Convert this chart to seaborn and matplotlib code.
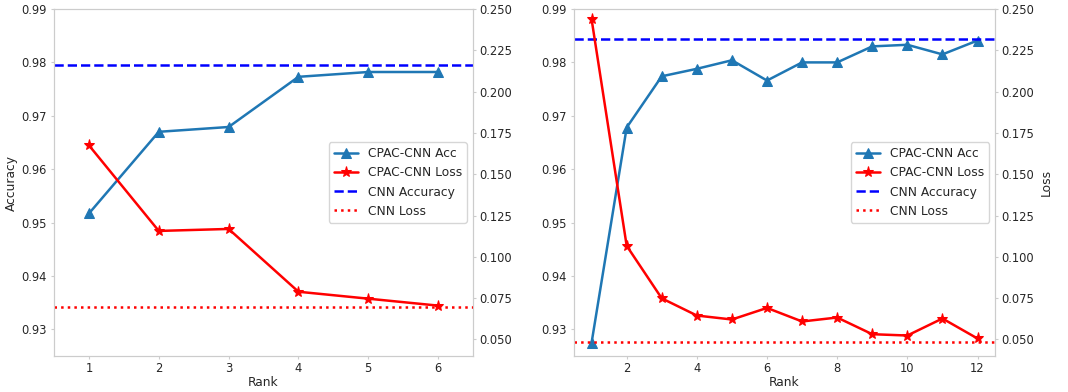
import numpy as np
import matplotlib
matplotlib.use("Agg")
import matplotlib.pyplot as plt
import seaborn as sns

sns.set_style("whitegrid", {"axes.grid": False, "axes.edgecolor": ".8"})
plt.rcParams["font.family"] = ["DejaVu Sans"]
plt.rcParams["font.size"] = 8.8

# left panel data
rank_a = [1, 2, 3, 4, 5, 6]
acc_a = [0.9517, 0.9670, 0.9679, 0.9773, 0.9782, 0.9782]
loss_a = [0.1675, 0.1157, 0.1169, 0.0789, 0.0747, 0.0705]
cnn_acc_a = 0.9795
cnn_loss_a = 0.0695

# right panel data
rank_b = [1, 2, 3, 4, 5, 6, 7, 8, 9, 10, 11, 12]
acc_b = [0.9275, 0.9678, 0.9774, 0.9788, 0.9804, 0.9766,
         0.9800, 0.9800, 0.9830, 0.9833, 0.9815, 0.9841]
loss_b = [0.2438, 0.1067, 0.0749, 0.0645, 0.0621, 0.0691,
          0.0609, 0.0633, 0.0532, 0.0524, 0.0627, 0.0506]
cnn_acc_b = 0.9844
cnn_loss_b = 0.0482

fig = plt.figure(figsize=(10.68, 3.92), dpi=100)
ax1 = fig.add_axes([0.0506, 0.0918, 0.3923, 0.8852])
ax2 = fig.add_axes([0.5375, 0.0918, 0.3942, 0.8852])

TICK_FS = 8.3


def panel(ax, rank, acc, loss, cnn_acc, cnn_loss, xticks, left_label, right_label):
    tw = ax.twinx()
    sns.lineplot(x=rank, y=acc, ax=ax, color="#1f77b4", marker="^", markersize=7,
                 markeredgecolor="#1f77b4", linewidth=1.8, label="CPAC-CNN Acc", legend=False)
    h_acc = ax.lines[-1]
    h_cnn_acc = ax.axhline(cnn_acc, color="blue", linestyle="--", linewidth=1.8,
                           label="CNN Accuracy")
    sns.lineplot(x=rank, y=loss, ax=tw, color="red", marker="*", markersize=8,
                 markeredgecolor="red", linewidth=1.8, label="CPAC-CNN Loss", legend=False)
    h_loss = tw.lines[-1]
    h_cnn_loss = tw.axhline(cnn_loss, color="red", linestyle=":", linewidth=1.8,
                            label="CNN Loss")
    ax.set_ylim(0.925, 0.99)
    ax.set_yticks([0.93, 0.94, 0.95, 0.96, 0.97, 0.98, 0.99])
    tw.set_ylim(0.04, 0.25)
    tw.set_yticks([0.05, 0.075, 0.1, 0.125, 0.15, 0.175, 0.2, 0.225, 0.25])
    tw.set_yticklabels([f"{v:.3f}" for v in tw.get_yticks()])
    ax.set_xlim(0.5, rank[-1] + 0.5)
    ax.set_xticks(xticks)
    ax.tick_params(axis="x", bottom=True, length=2.5, width=0.8, color=".8",
                   pad=1.8, labelsize=TICK_FS)
    ax.tick_params(axis="y", left=True, length=2.5, width=0.8, color=".8",
                   pad=3, labelsize=TICK_FS)
    tw.tick_params(axis="y", right=True, length=2.5, width=0.8, color=".8",
                   pad=1.8, labelsize=TICK_FS)
    ax.set_xlabel("Rank", labelpad=1)
    if left_label:
        ax.set_ylabel(left_label, labelpad=2)
    if right_label:
        tw.set_ylabel(right_label, labelpad=4)
    for s in tw.spines.values():
        s.set_color(".8")
    tw.grid(False)
    tw.legend([h_acc, h_loss, h_cnn_acc, h_cnn_loss],
              ["CPAC-CNN Acc", "CPAC-CNN Loss", "CNN Accuracy", "CNN Loss"],
              loc="center right", fontsize=8.8, framealpha=0.8)
    return tw


panel(ax1, rank_a, acc_a, loss_a, cnn_acc_a, cnn_loss_a, rank_a, "Accuracy", None)
panel(ax2, rank_b, acc_b, loss_b, cnn_acc_b, cnn_loss_b, [2, 4, 6, 8, 10, 12], None, "Loss")

fig.savefig("out.png", dpi=100)
